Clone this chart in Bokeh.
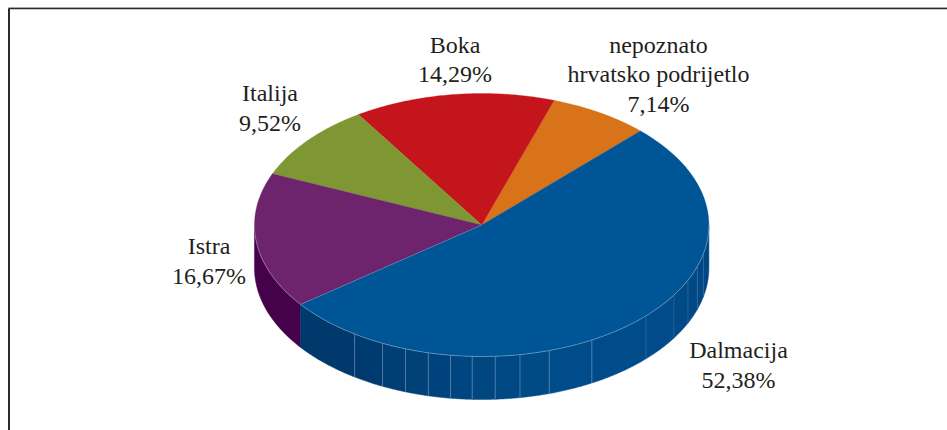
import numpy as np
from bokeh.plotting import figure
from bokeh.models import Range1d
from bokeh.core.properties import value
from bokeh.embed import file_html
from bokeh.resources import INLINE

# slices run counter-clockwise from first_angle
categories = ["nepoznato\nhrvatsko podrijetlo", "Boka", "Italija", "Istra", "Dalmacija"]
shares = [7.14, 14.29, 9.52, 16.67, 52.38]
share_labels = ["7,14%", "14,29%", "9,52%", "16,67%", "52,38%"]
top_colors = ["#d8731a", "#c4151c", "#7f9733", "#6d246c", "#005596"]
first_angle = 45.7
# side ribs of the big slice, degrees away from the front of the pie
rib_angles = [-34, -25.9, -19.6, -13.6, -7.9, -2.4, 3.4, 9.7, 17.3, 29, 46.3, 57.8, 65.2, 71.6, 77.4]
label_x = [658, 454.5, 269.5, 208.5, 738]
label_y = [74, 59, 107.5, 260.5, 364.5]

W, H = 947, 430
CX, CY, RX, RY, DEPTH = 481.2, 224.5, 227.2, 131.5, 43


def rim(a0, a1, n=90):
    t = np.radians(np.linspace(a0, a1, n))
    return CX + RX * np.cos(t), CY - RY * np.sin(t)


p = figure(width=W, height=H, x_range=Range1d(0, W), y_range=Range1d(H, 0),
           toolbar_location=None, output_backend="svg", min_border=0)
p.axis.visible = False
p.grid.visible = False
p.outline_line_color = None
p.background_fill_color = "white"
p.border_fill_color = "white"

# frame: only top and left edges are visible in the source
p.line([8.5, 8.5], [H, 8], line_color="#2b2b2b", line_width=2)
p.line([8, W], [8, 8], line_color="#2b2b2b", line_width=1.5)
p.line([8, W], [7, 7], line_color="#a8a8a8", line_width=1)

edges = first_angle + np.cumsum([0] + [s / sum(shares) * 360 for s in shares])


def side(a0, a1, color):
    x, y = rim(a0, a1, 40)
    p.patch(np.r_[x, x[::-1]], np.r_[y, y[::-1] + DEPTH], fill_color=color, line_color=color, line_width=0.5)


# side of Istra
side(180, edges[4], "#45024a")

# side of Dalmacija, shaded by rib segment
seg = [edges[4]] + [270 + a for a in rib_angles] + [360]
for a0, a1 in zip(seg[:-1], seg[1:]):
    mid = (a0 + a1) / 2 - 270
    k = max((mid + 37) / 127, 0)
    g = int(57 + 12 * np.sin(np.pi * min(k * 1.05, 1)) + 14 * k)
    b = int(108 + 18 * np.sin(np.pi * min(k * 1.05, 1)) + 24 * k)
    side(a0, a1, f"#00{g:02x}{b:02x}")

for a in rib_angles:
    x, y = rim(270 + a, 270 + a, 1)
    bright = 0.42 if abs(a) < 36 else 0.2
    p.line([x[0], x[0]], [y[0], y[0] + DEPTH], line_color="#9fc0dc", line_alpha=bright, line_width=1)

# top surface
for i, color in enumerate(top_colors):
    x, y = rim(edges[i], edges[i + 1])
    p.patch(np.r_[CX, x], np.r_[CY, y], fill_color=color, line_color=color, line_width=0.3)

# pale rim on the front edge of the top
x, y = rim(180, 360, 180)
p.line(x, y, line_color="#ffffff", line_alpha=0.3, line_width=1)
x, y = rim(edges[4], edges[4], 1)
p.line([CX, x[0]], [CY, y[0]], line_color="#ffffff", line_alpha=0.2, line_width=1)

texts = [f"{c}\n{s}" for c, s in zip(categories, share_labels)]
p.text(label_x, label_y, text=texts, text_font=value("Liberation Serif"), text_font_size="24px",
       text_color="#231f20", text_align="center", text_baseline="middle", text_line_height=1.12)

open("out.html", "w").write(file_html(p, INLINE))
